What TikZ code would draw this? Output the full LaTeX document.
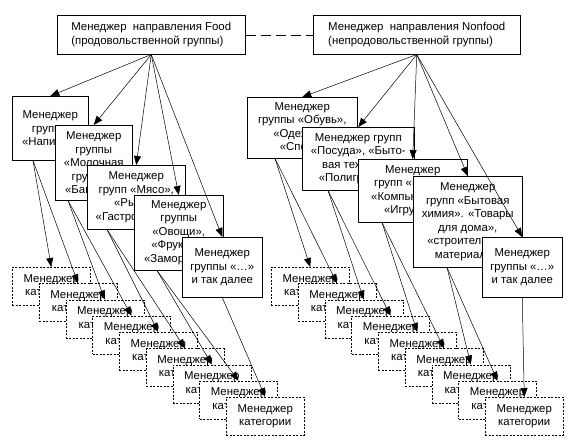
\documentclass[tikz,border=0pt]{standalone}
\usepackage{fontspec}
\setmainfont{Liberation Sans}
\usetikzlibrary{arrows.meta,calc}

\begin{document}
\begin{tikzpicture}[x=1pt,y=-1pt,line width=0.5pt,>={Triangle[length=9pt,width=7pt]}]
    \tikzstyle{box}=[draw,fill=white,anchor=north west,inner sep=0pt,align=center,font=\fontsize{11.4}{13.5}\selectfont]
    \tikzstyle{head}=[box,align=left,minimum height=39pt]
    \tikzstyle{category}=[box,dash pattern=on 2pt off 1.5pt,minimum width=78pt,minimum height=38pt]
    \tikzstyle{link}=[->]

    \useasboundingbox (0,0) rectangle (587,445);

    % directions
    \node[head,minimum width=188pt] (F) at (57,15) {Менеджер~ направления Food\\(продовольственной группы)};
    \node[head,minimum width=207pt] (N) at (313,15) {Менеджер~ направления Nonfood\\(непродовольственной группы)};
    \draw[dash pattern=on 10pt off 5pt] (F) -- (N);

    % group managers
    \foreach \name/\x/\y/\w/\h/\txt in {
        G-1/12/96/76/64/{Менеджер\\группы\\«Напитки»},
        G-2/55/125/77/75/{Менеджер\\группы\\«Молочная\\группа»,\\«Бакалея»},
        G-3/87/165/98/64/{Менеджер\\групп «Мясо»,\\«Рыба»,\\«Гастрономия»},
        G-4/134/195/89/75/{Менеджер\\группы\\«Овощи»,\\«Фрукты»,\\«Заморозка»},
        G-5/182/237/80/60/{Менеджер\\группы «…»\\и так далее},
        R-1/247/97/110/61/{Менеджер\\группы «Обувь»,\\«Одежда»,\\«Спорт»},
        R-2/302/127/112/63/{Менеджер групп\\«Посуда», «Быто-\\вая техника»,\\«Полиграфия»},
        R-3/358/159/109/63/{Менеджер\\групп «Книги»,\\«Компьютеры»,\\«Игрушки»},
        R-4/413/176/109/91/{Менеджер\\групп «Бытовая\\химия». «Товары\\для дома»,\\«строительные\\материалы»},
        R-5/482/237/80/60/{Менеджер\\группы «…»\\и так далее}}
        \node[box,minimum width=\w pt,minimum height=\h pt] (\name) at (\x,\y) {\txt};

    % category managers
    \foreach \i in {1,...,9} {
        \node[category] (C-\i) at ({12+26.75*(\i-1)},{267+16.25*(\i-1)}) {Менеджер\\категории};
        \node[category] (D-\i) at ({271+26.75*(\i-1)},{267+16.25*(\i-1)}) {Менеджер\\категории};
    }

    \foreach \i in {1,...,5} {
        \draw[link] (F.south) -- (G-\i.north);
        \draw[link] (N.south) -- (R-\i.north);
    }

    \foreach \g/\off/\a/\b in {1/21/1/2,2/13/3/4,3/20/5/6,4/23/7/8} {
        \draw[link] ($(G-\g.south west)+(\off,0)$) -- (C-\a.north);
        \draw[link] ($(G-\g.south west)+(\off,0)$) -- (C-\b.north);
    }
    \foreach \g/\off/\a/\b in {1/28/1/2,2/26/3/4,3/24/5/6,4/34/7/8} {
        \draw[link] ($(R-\g.south west)+(\off,0)$) -- (D-\a.north);
        \draw[link] ($(R-\g.south west)+(\off,0)$) -- (D-\b.north);
    }
    \draw[link] (G-5.south) -- (C-9.north);
    \draw[link] (R-5.south) -- (D-9.north);
\end{tikzpicture}
\end{document}
